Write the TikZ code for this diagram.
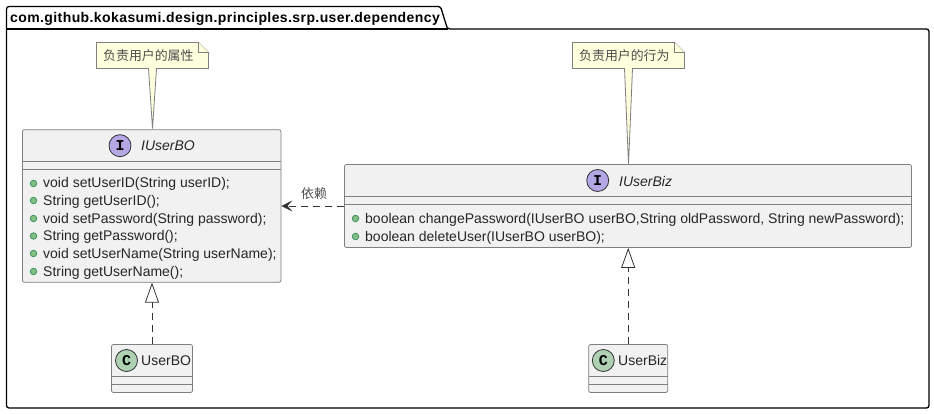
\documentclass[tikz,border=0pt]{standalone}
\usepackage{fontspec}
\setmainfont{Liberation Sans}
\newfontfamily\cjkfont{Noto Sans CJK SC}
\newfontfamily\spotfont{Liberation Mono}[BoldFont={Liberation Mono Bold}]
\newfontfamily\pkgfont{Liberation Sans Bold}[LetterSpace=2.9]
\usetikzlibrary{arrows.meta}
\definecolor{boxfill}{HTML}{F1F1F1}
\definecolor{boxline}{HTML}{7F7F7F}
\definecolor{notefill}{HTML}{FEFFDD}
\definecolor{spotI}{HTML}{B4A7E5}
\definecolor{spotC}{HTML}{ADD1B2}
\definecolor{dotfill}{HTML}{84BE84}
\definecolor{dotline}{HTML}{2E8B57}
\tikzset{
	classbox/.style={draw=boxline, fill=boxfill, rounded corners=2pt, line width=0.8pt, inner sep=0pt},
	sep/.style={draw=boxline, line width=0.8pt},
	spot/.style={circle, draw=black!80, line width=0.8pt, minimum size=22pt, inner sep=0pt, font=\spotfont\bfseries\fontsize{15}{15}\selectfont},
	member/.style={anchor=base west, inner sep=0pt, text=black!85, font=\fontsize{14}{16}\selectfont},
	title/.style={anchor=base west, inner sep=0pt, text=black!85, font=\fontsize{14}{16}\selectfont\itshape},
	dot/.style={circle, draw=dotline, fill=dotfill, line width=0.7pt, minimum size=6.5pt, inner sep=0pt},
	notetext/.style={anchor=base west, inner sep=0pt, text=black!70, font=\cjkfont\fontsize{12.9}{14}\selectfont},
	realize/.style={draw=black!80, line width=0.8pt, dash pattern=on 7pt off 5pt, -{Triangle[open, fill=white, length=20pt, width=14pt]}},
	depend/.style={draw=black!80, line width=0.8pt, dash pattern=on 7pt off 5pt, -{Stealth[length=11pt, width=11pt, inset=5pt]}}
}

\begin{document}
\begin{tikzpicture}[x=1pt, y=-1pt]
	\useasboundingbox (0, 0) rectangle (934, 414);
	%%%%% package %%%%%
	\draw[line width=1.3pt, fill=white, rounded corners=2.5pt] (6.5, 29) -- (6.5, 6.5) -- (440.5, 6.5) -- (447.5, 29) -- (929, 29) -- (929, 408) -- (6.5, 408) -- cycle;
	\draw[line width=1.3pt] (6.5, 29) -- (447.5, 29);
	\node[anchor=base west, inner sep=0pt, font=\pkgfont\fontsize{14}{16}\selectfont] (pkgname) at (10, 23) {com.github.kokasumi.design.principles.srp.user.dependency};

	%%%%% IUserBO %%%%%
	\node[classbox, minimum width=258.5pt, minimum height=152.5pt] (iuserbo) at (151.75, 206) {};
	\draw[sep] (22.5, 161.5) -- (281, 161.5);
	\draw[sep] (22.5, 169.5) -- (281, 169.5);
	\node[spot, fill=spotI] (iuserbospot) at (120, 145.7) {I};
	\node[title] (iuserbotitle) at (141, 151) {IUserBO};
	\node[dot] (bo1) at (33.5, 183.5) {};
	\node[member] (bo1text) at (43, 188) {void setUserID(String userID);};
	\node[dot] (bo2) at (33.5, 200.5) {};
	\node[member] (bo2text) at (43, 205) {String getUserID();};
	\node[dot] (bo3) at (33.5, 218.5) {};
	\node[member] (bo3text) at (43, 223) {void setPassword(String password);};
	\node[dot] (bo4) at (33.5, 236) {};
	\node[member] (bo4text) at (43, 240.5) {String getPassword();};
	\node[dot] (bo5) at (33.5, 253.5) {};
	\node[member] (bo5text) at (43, 258) {void setUserName(String userName);};
	\node[dot] (bo6) at (33.5, 271.5) {};
	\node[member] (bo6text) at (43, 276) {String getUserName();};

	%%%%% IUserBiz %%%%%
	\node[classbox, minimum width=567pt, minimum height=83pt] (iuserbiz) at (628, 206) {};
	\draw[sep] (344.5, 196.5) -- (911.5, 196.5);
	\draw[sep] (344.5, 204.5) -- (911.5, 204.5);
	\node[spot, fill=spotI] (iuserbizspot) at (597.7, 180.5) {I};
	\node[title] (iuserbiztitle) at (619, 186) {IUserBiz};
	\node[dot] (biz1) at (355.5, 218.5) {};
	\node[member] (biz1text) at (365, 223) {boolean changePassword(IUserBO userBO,String oldPassword, String newPassword);};
	\node[dot] (biz2) at (355.5, 236.5) {};
	\node[member] (biz2text) at (365, 241) {boolean deleteUser(IUserBO userBO);};

	%%%%% UserBO %%%%%
	\node[classbox, minimum width=81pt, minimum height=48pt] (userbo) at (152, 368.5) {};
	\draw[sep] (111.5, 376.5) -- (192.5, 376.5);
	\draw[sep] (111.5, 384.5) -- (192.5, 384.5);
	\node[spot, fill=spotC] (userbospot) at (126.5, 360.5) {C};
	\node[member] (userbotext) at (141, 365.5) {UserBO};

	%%%%% UserBiz %%%%%
	\node[classbox, minimum width=79pt, minimum height=48pt] (userbiz) at (628.2, 368.5) {};
	\draw[sep] (588.7, 376.5) -- (667.7, 376.5);
	\draw[sep] (588.7, 384.5) -- (667.7, 384.5);
	\node[spot, fill=spotC] (userbizspot) at (603.3, 360.5) {C};
	\node[member] (userbiztext) at (618, 365.5) {UserBiz};

	%%%%% notes %%%%%
	\draw[boxline, fill=notefill, line width=0.8pt] (96.5, 42.5) -- (198.5, 42.5) -- (208.5, 52.5) -- (208.5, 68.5) -- (156.5, 68.5) -- (152.5, 128.5) -- (148.5, 68.5) -- (96.5, 68.5) -- cycle;
	\draw[boxline, fill=notefill, line width=0.8pt] (198.5, 42.5) -- (198.5, 52.5) -- (208.5, 52.5);
	\node[notetext] (notebo) at (103, 60.5) {负责用户的属性};
	\draw[boxline, fill=notefill, line width=0.8pt] (572.5, 42.5) -- (674.5, 42.5) -- (684.5, 52.5) -- (684.5, 68.5) -- (632.5, 68.5) -- (628.5, 164.5) -- (624.5, 68.5) -- (572.5, 68.5) -- cycle;
	\draw[boxline, fill=notefill, line width=0.8pt] (674.5, 42.5) -- (674.5, 52.5) -- (684.5, 52.5);
	\node[notetext] (notebiz) at (579, 60.5) {负责用户的行为};

	%%%%% connectors %%%%%
	\draw[realize] (userbo.north) -- (iuserbo.south -| userbo.north);
	\draw[realize] (userbiz.north) -- (iuserbiz.south -| userbiz.north);
	\draw[depend] (iuserbiz.west) -- (iuserbo.east);
	\node[notetext] (deplabel) at (301, 198.5) {依赖};
\end{tikzpicture}
\end{document}
